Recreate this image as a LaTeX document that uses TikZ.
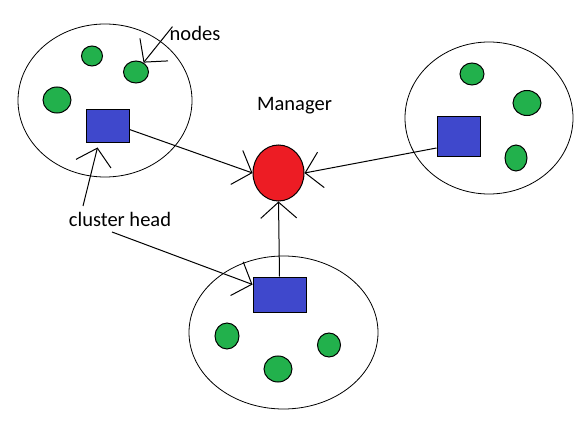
\documentclass[tikz,border=0pt]{standalone}
\usepackage{fontspec}
\setmainfont{Carlito}
\usepackage{xcolor}
\usepackage{tikz}
\usetikzlibrary{shapes.geometric, arrows.meta}
\definecolor{headblue}{RGB}{63,72,204}
\definecolor{sensorgreen}{RGB}{34,177,76}
\definecolor{managerred}{RGB}{237,28,36}
\tikzstyle{cluster} = [ellipse, draw=black, line width=0.8pt, inner sep=0pt]
\tikzstyle{head} = [rectangle, draw=black, fill=headblue, line width=1pt, inner sep=0pt]
\tikzstyle{sensor} = [ellipse, draw=black, fill=sensorgreen, line width=1pt, inner sep=0pt]
\tikzstyle{manager} = [ellipse, draw=black, fill=managerred, line width=1pt, inner sep=0pt, minimum width=51pt, minimum height=56pt]
\tikzstyle{txt} = [inner sep=0pt, anchor=base, font=\fontsize{20.5}{24}\selectfont]
\tikzstyle{arrow} = [line width=1pt, -{Straight Barb[length=16pt,width=36pt]}]

\begin{document}
\begin{tikzpicture}[x=1pt,y=-1pt]
    \useasboundingbox (0,0) rectangle (584,425);
    % left cluster
    \node[cluster, minimum width=174pt, minimum height=153pt] (lcl) at (105,100.5) {};
    \node[sensor, minimum width=21pt, minimum height=20pt] (ls1) at (92,56) {};
    \node[sensor, minimum width=25pt, minimum height=22pt] (ls2) at (136,72) {};
    \node[sensor, minimum width=28pt, minimum height=26pt] (ls3) at (57,100) {};
    \node[head, minimum width=43pt, minimum height=33pt] (lhead) at (107.5,126.5) {};
    % right cluster
    \node[cluster, minimum width=168pt, minimum height=152pt] (rcl) at (489,118) {};
    \node[sensor, minimum width=24pt, minimum height=22pt] (rs1) at (472,74) {};
    \node[sensor, minimum width=28pt, minimum height=25pt] (rs2) at (527,103) {};
    \node[sensor, minimum width=22pt, minimum height=26pt] (rs3) at (516,158) {};
    \node[head, minimum width=43pt, minimum height=40pt] (rhead) at (458.5,137) {};
    % bottom cluster
    \node[cluster, minimum width=189pt, minimum height=153pt] (bcl) at (283.5,332.5) {};
    \node[sensor, minimum width=24pt, minimum height=26pt] (bs1) at (227,336) {};
    \node[sensor, minimum width=28pt, minimum height=26pt] (bs2) at (278,369) {};
    \node[sensor, minimum width=23pt, minimum height=24pt] (bs3) at (329,345) {};
    \node[head, minimum width=53pt, minimum height=35pt] (bhead) at (279.5,294.5) {};
    % manager
    \node[manager] (mgr) at (278.5,173) {};
    % texts
    \node[txt] (mgrtxt) at (294.5,111) {Manager};
    \node[txt] (nodestxt) at (195,41) {nodes};
    \node[txt] (chtxt) at (120,226) {cluster head};
    \coordinate (ch1) at (83,206);
    \coordinate (ch2) at (112,232);
    % connectors to the manager
    \draw[arrow] ([yshift=-3pt]lhead.east) -- (mgr.west);
    \draw[arrow] ([yshift=-11pt]rhead.west) -- (mgr.east);
    \draw[arrow] (bhead.north) -- (mgr.south);
    % label pointers
    \draw[arrow] ([xshift=3pt]nodestxt.north west) -- (ls2);
    \draw[arrow] (ch1) -- ([xshift=-10pt,yshift=-4pt]lhead.south);
    \draw[arrow] (ch2) -- ([yshift=10pt]bhead.west);
\end{tikzpicture}
\end{document}
